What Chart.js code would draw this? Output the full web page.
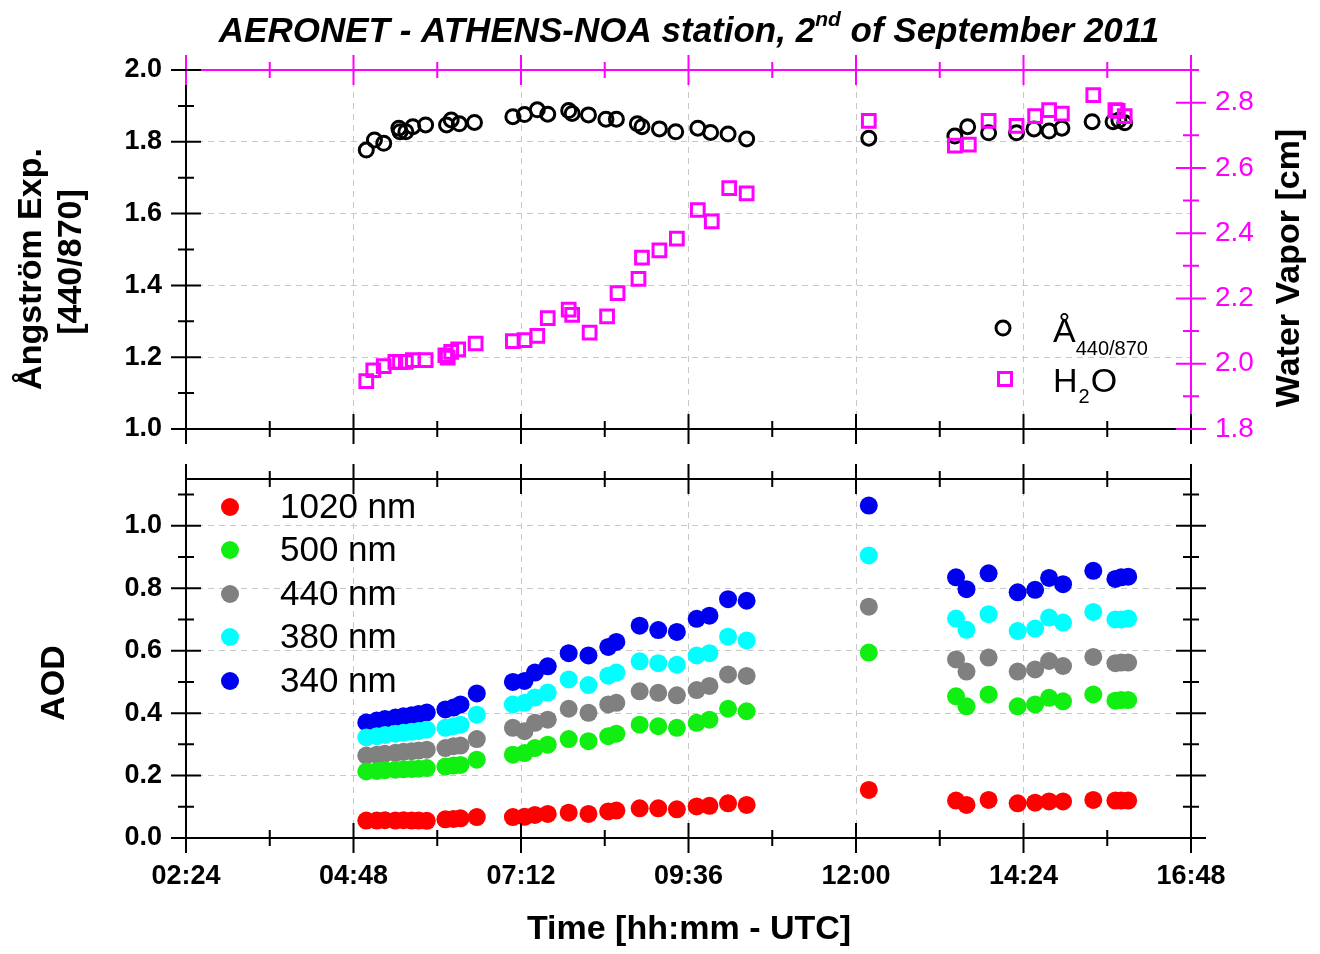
<!DOCTYPE html>
<html>
<head>
<meta charset="utf-8">
<title>AERONET - ATHENS-NOA, 2 September 2011</title>
<script src="https://cdn.jsdelivr.net/npm/chart.js@4.4.1/dist/chart.umd.min.js"></script>
<style>
  html, body { margin: 0; padding: 0; background: #fff; }
  #wrap { position: relative; width: 1320px; height: 954px; overflow: hidden; }
  #wrap canvas { position: absolute; left: 0; }
  #top { top: 0; }
  #bottom { top: 454px; }
</style>
</head>
<body>
<div id="wrap">
  <canvas id="top" width="1320" height="454"></canvas>
  <canvas id="bottom" width="1320" height="500"></canvas>
</div>
<script>
/* ── DATA ─────────────────────────────────────────────────── */
const timeTicks = ['02:24', '04:48', '07:12', '09:36', '12:00', '14:24', '16:48'];

// Ångström exponent 440/870 (left axis, top panel)
const aeTimes  = ['04:59','05:06','05:14','05:27','05:28','05:33','05:39','05:50','06:08','06:12','06:19','06:32',
                  '07:05','07:15','07:26','07:35','07:53','07:56','08:10','08:25','08:34','08:52','08:56','09:11',
                  '09:25','09:44','09:55','10:10','10:26','12:11','13:25','13:36','13:54','14:18','14:33','14:46',
                  '14:57','15:23','15:41','15:46','15:51'];
const aeValues = [1.777,1.805,1.796,1.838,1.828,1.828,1.842,1.847,1.847,1.861,1.850,1.854,
                  1.870,1.876,1.889,1.877,1.887,1.879,1.875,1.863,1.863,1.850,1.842,1.836,
                  1.828,1.838,1.826,1.822,1.808,1.810,1.816,1.842,1.825,1.825,1.836,1.830,
                  1.838,1.856,1.856,1.860,1.853];

// Water vapour [cm] (right axis, top panel)
const wvTimes  = ['04:59','05:05','05:14','05:24','05:28','05:33','05:39','05:50','06:07','06:09','06:12','06:18',
                  '06:33','07:05','07:15','07:26','07:35','07:53','07:56','08:11','08:26','08:35','08:53','08:56',
                  '09:11','09:26','09:44','09:56','10:11','10:26','12:11','13:25','13:37','13:54','14:18','14:34',
                  '14:46','14:57','15:24','15:43','15:45','15:51'];
const wvValues = [1.947,1.980,1.993,2.006,2.006,2.006,2.011,2.011,2.026,2.019,2.036,2.044,
                  2.062,2.069,2.072,2.085,2.140,2.166,2.150,2.095,2.145,2.216,2.260,2.325,
                  2.347,2.383,2.471,2.436,2.538,2.522,2.744,2.668,2.671,2.744,2.729,2.759,
                  2.777,2.766,2.823,2.777,2.775,2.759];

// AOD (bottom panel)
const aodTimes = ['04:59','05:08','05:15','05:24','05:31','05:38','05:44','05:51','06:07','06:14','06:20','06:34',
                  '07:05','07:15','07:24','07:35','07:53','08:10','08:27','08:34','08:54','09:10','09:26','09:43',
                  '09:54','10:10','10:26','12:11','13:26','13:35','13:54','14:19','14:34','14:46','14:58','15:24',
                  '15:43','15:48','15:54'];
const aod1020 = [0.056,0.056,0.057,0.056,0.057,0.056,0.056,0.055,0.060,0.061,0.063,0.067,
                 0.067,0.068,0.074,0.077,0.081,0.077,0.085,0.088,0.095,0.095,0.092,0.101,
                 0.103,0.111,0.106,0.154,0.120,0.106,0.122,0.111,0.113,0.117,0.117,0.122,
                 0.120,0.120,0.120];
const aod500  = [0.213,0.215,0.217,0.219,0.220,0.221,0.222,0.224,0.229,0.232,0.234,0.251,
                 0.267,0.272,0.288,0.299,0.317,0.310,0.326,0.334,0.363,0.358,0.353,0.369,
                 0.379,0.414,0.406,0.594,0.454,0.422,0.460,0.422,0.428,0.449,0.438,0.460,
                 0.440,0.442,0.442];
const aod440  = [0.264,0.267,0.270,0.273,0.276,0.278,0.280,0.283,0.288,0.294,0.296,0.317,
                 0.353,0.342,0.369,0.379,0.414,0.401,0.428,0.433,0.470,0.465,0.457,0.474,
                 0.487,0.524,0.519,0.741,0.572,0.533,0.578,0.533,0.540,0.567,0.551,0.580,
                 0.560,0.562,0.562];
const aod380  = [0.322,0.326,0.330,0.334,0.337,0.340,0.343,0.347,0.353,0.358,0.363,0.395,
                 0.428,0.433,0.450,0.466,0.508,0.490,0.520,0.530,0.566,0.560,0.555,0.585,
                 0.592,0.645,0.633,0.905,0.703,0.667,0.717,0.663,0.671,0.706,0.690,0.724,
                 0.700,0.700,0.703];
const aod340  = [0.370,0.376,0.381,0.386,0.390,0.393,0.397,0.402,0.412,0.418,0.428,0.463,
                 0.500,0.503,0.530,0.550,0.592,0.585,0.612,0.628,0.680,0.666,0.660,0.702,
                 0.712,0.765,0.760,1.065,0.835,0.797,0.848,0.787,0.795,0.833,0.813,0.856,
                 0.830,0.835,0.837];
const aodLabels = ['1020 nm', '500 nm', '440 nm', '380 nm', '340 nm'];

/* ── HELPERS ──────────────────────────────────────────────── */
const FAMILY  = "'Liberation Sans', Arial, sans-serif";
const INK     = '#000';
const MAGENTA = '#ff00ff';
const GRID    = '#c8c8c8';
const aodColors = ['#ff0000', '#11ee11', '#808080', '#00ffff', '#0000f0'];

Chart.defaults.font.family = FAMILY;

const toMin = s => { const [h, m] = s.split(':'); return +h * 60 + +m; };
const fmtTime = v => String(Math.floor(v / 60)).padStart(2, '0') + ':' + String(Math.round(v % 60)).padStart(2, '0');
const pairs = (times, vals) => times.map((t, i) => ({ x: toMin(t), y: vals[i] }));

const xMin  = toMin(timeTicks[0]);
const xMax  = toMin(timeTicks[timeTicks.length - 1]);
const xStep = toMin(timeTicks[1]) - xMin;

// grid lines only inside the frame
const innerGrid = c => {
  const s = c.scale;
  if (!c.tick) return GRID;
  return (Math.abs(c.tick.value - s.min) < 1e-6 || Math.abs(c.tick.value - s.max) < 1e-6) ? 'rgba(0,0,0,0)' : GRID;
};

// fixed box size, no label overflow padding -> predictable plot area
const fixBox = (w, h) => s => {
  if (w != null) s.width = w;
  if (h != null) s.height = h;
  s.paddingTop = s.paddingBottom = s.paddingLeft = s.paddingRight = 0;
};

function line(ctx, x1, y1, x2, y2, color) {
  ctx.strokeStyle = color; ctx.lineWidth = 2;
  ctx.beginPath(); ctx.moveTo(x1, y1); ctx.lineTo(x2, y2); ctx.stroke();
}

// crossing tick marks (major from scale.ticks, minor half way)
function tickMarks(ctx, scale, edge, color) {
  const vals = scale.ticks.map(t => t.value);
  const step = vals[1] - vals[0];
  const minors = vals.map(v => v + step / 2).filter(v => v <= scale.max + 1e-9);
  const horiz = scale.isHorizontal();
  ctx.strokeStyle = color; ctx.lineWidth = 2;
  ctx.beginPath();
  const mark = (v, len) => {
    const p = scale.getPixelForValue(v);
    if (horiz) { ctx.moveTo(p, edge - len); ctx.lineTo(p, edge + len); }
    else       { ctx.moveTo(edge - len, p); ctx.lineTo(edge + len, p); }
  };
  vals.forEach(v => mark(v, 15));
  minors.forEach(v => mark(v, 8));
  ctx.stroke();
}

function vText(ctx, text, x, y) {
  ctx.save();
  ctx.translate(x, y); ctx.rotate(-Math.PI / 2);
  ctx.textAlign = 'center'; ctx.textBaseline = 'middle';
  ctx.fillText(text, 0, 0);
  ctx.restore();
}

/* ── TOP PANEL DECORATION ─────────────────────────────────── */
const topDecor = {
  id: 'topDecor',
  afterDraw(chart) {
    const { ctx, chartArea: a, scales } = chart;
    ctx.save();
    line(ctx, a.left, a.top, a.left, a.bottom, INK);
    line(ctx, a.left, a.bottom, a.right, a.bottom, INK);
    line(ctx, a.left, a.top, a.right, a.top, MAGENTA);
    line(ctx, a.right, a.top, a.right, a.bottom, MAGENTA);
    tickMarks(ctx, scales.x, a.bottom, INK);
    tickMarks(ctx, scales.x, a.top, MAGENTA);
    tickMarks(ctx, scales.y, a.left, INK);
    tickMarks(ctx, scales.y2, a.right, MAGENTA);

    // title with superscript
    ctx.fillStyle = INK;
    ctx.textAlign = 'left'; ctx.textBaseline = 'alphabetic';
    const p1 = 'AERONET - ATHENS-NOA station, 2', p2 = 'nd', p3 = ' of September 2011';
    const big = `italic bold 35px ${FAMILY}`, sup = `italic bold 21px ${FAMILY}`;
    ctx.font = big; const w1 = ctx.measureText(p1).width, w3 = ctx.measureText(p3).width;
    ctx.font = sup; const w2 = ctx.measureText(p2).width;
    let x = 689 - (w1 + w2 + w3) / 2;
    ctx.font = big; ctx.fillText(p1, x, 42); x += w1;
    ctx.font = sup; ctx.fillText(p2, x, 26); x += w2;
    ctx.font = big; ctx.fillText(p3, x, 42);

    // axis titles
    ctx.font = `bold 34px ${FAMILY}`;
    vText(ctx, 'Ångström Exp.', 32, 269);
    vText(ctx, '[440/870]', 72, 262);
    vText(ctx, 'Water Vapor [cm]', 1290, 268);

    // legend
    ctx.lineWidth = 3;
    ctx.strokeStyle = INK;
    ctx.beginPath(); ctx.arc(1003, 328, 7, 0, Math.PI * 2); ctx.stroke();
    ctx.strokeStyle = MAGENTA;
    ctx.strokeRect(1005 - 6.5, 379 - 6.5, 13, 13);
    ctx.fillStyle = INK; ctx.textAlign = 'left'; ctx.textBaseline = 'alphabetic';
    ctx.font = `34px ${FAMILY}`; ctx.fillText('Å', 1053, 342);
    const wa = ctx.measureText('Å').width;
    ctx.font = `20px ${FAMILY}`; ctx.fillText('440/870', 1053 + wa, 355);
    ctx.font = `34px ${FAMILY}`; ctx.fillText('H', 1053, 392);
    const wh = ctx.measureText('H').width;
    ctx.font = `20px ${FAMILY}`; ctx.fillText('2', 1053 + wh + 1, 403);
    const w2s = ctx.measureText('2').width;
    ctx.font = `34px ${FAMILY}`; ctx.fillText('O', 1053 + wh + w2s + 2, 392);
    ctx.restore();
  }
};

/* ── BOTTOM PANEL DECORATION ──────────────────────────────── */
const OFF_B = 454;
const bottomDecor = {
  id: 'bottomDecor',
  afterDraw(chart) {
    const { ctx, chartArea: a, scales } = chart;
    ctx.save();
    line(ctx, a.left, a.top, a.left, a.bottom, INK);
    line(ctx, a.left, a.bottom, a.right, a.bottom, INK);
    line(ctx, a.left, a.top, a.right, a.top, INK);
    line(ctx, a.right, a.top, a.right, a.bottom, INK);
    tickMarks(ctx, scales.x, a.bottom, INK);
    tickMarks(ctx, scales.x, a.top, INK);
    tickMarks(ctx, scales.y, a.left, INK);
    tickMarks(ctx, scales.y, a.right, INK);

    ctx.fillStyle = INK;
    ctx.font = `bold 34px ${FAMILY}`;
    vText(ctx, 'AOD', 55, 683 - OFF_B);
    ctx.textAlign = 'center'; ctx.textBaseline = 'middle';
    ctx.fillText('Time [hh:mm - UTC]', 689, 930 - OFF_B);

    // legend
    const rows = [507, 550, 594, 637, 681];
    ctx.font = `35px ${FAMILY}`;
    ctx.textAlign = 'left'; ctx.textBaseline = 'middle';
    aodLabels.forEach((lab, i) => {
      const y = rows[i] - OFF_B;
      ctx.fillStyle = aodColors[i];
      ctx.beginPath(); ctx.arc(230, y, 9, 0, Math.PI * 2); ctx.fill();
      ctx.fillStyle = INK;
      ctx.fillText(lab, 280, y + 1);
    });
    ctx.restore();
  }
};

/* ── SHARED SCALE PIECES ──────────────────────────────────── */
const tickFont = { size: 27, weight: 'bold' };
const xScaleBase = {
  type: 'linear', min: xMin, max: xMax,
  grid: { color: innerGrid, drawTicks: false, lineWidth: 1 },
  border: { display: false, dash: [6, 5] },
};

/* ── TOP CHART ────────────────────────────────────────────── */
new Chart(document.getElementById('top'), {
  type: 'scatter',
  data: {
    datasets: [
      { label: 'H2O', data: pairs(wvTimes, wvValues), yAxisID: 'y2', order: 0,
        pointStyle: 'rect', pointRadius: 9, pointBorderWidth: 3, borderWidth: 3,
        borderColor: MAGENTA, backgroundColor: 'rgba(0,0,0,0)' },
      { label: 'Å440/870', data: pairs(aeTimes, aeValues), yAxisID: 'y', order: 1,
        pointStyle: 'circle', pointRadius: 7, pointBorderWidth: 3, borderWidth: 3,
        borderColor: INK, backgroundColor: 'rgba(0,0,0,0)' },
    ],
  },
  options: {
    responsive: false, animation: false, devicePixelRatio: 1,
    layout: { padding: { top: 70, left: 0, right: 0, bottom: 0 } },
    plugins: { legend: { display: false }, tooltip: { enabled: false } },
    scales: {
      x: { ...xScaleBase, position: 'bottom',
           ticks: { display: false, stepSize: xStep },
           afterFit: fixBox(null, 25) },
      y: { type: 'linear', position: 'left', min: 1.0, max: 2.0,
           ticks: { stepSize: 0.2, font: tickFont, color: INK, padding: 24, callback: v => v.toFixed(1) },
           grid: { color: innerGrid, drawTicks: false, lineWidth: 1 },
           border: { display: false, dash: [6, 5] },
           afterFit: fixBox(186, null) },
      y2: { type: 'linear', position: 'right', min: 1.8, max: 2.9,
            ticks: { stepSize: 0.2, includeBounds: false, font: { size: 28 }, color: MAGENTA, padding: 24,
                     callback: v => v.toFixed(1) },
            grid: { display: false, drawTicks: false },
            border: { display: false },
            afterFit: fixBox(129, null) },
    },
  },
  plugins: [topDecor],
});

/* ── BOTTOM CHART ─────────────────────────────────────────── */
const aodSeries = [aod1020, aod500, aod440, aod380, aod340];
new Chart(document.getElementById('bottom'), {
  type: 'scatter',
  data: {
    datasets: aodSeries.map((vals, i) => ({
      label: aodLabels[i], data: pairs(aodTimes, vals),
      pointStyle: 'circle', pointRadius: 9, pointBorderWidth: 0,
      backgroundColor: aodColors[i], borderColor: aodColors[i],
    })),
  },
  options: {
    responsive: false, animation: false, devicePixelRatio: 1,
    layout: { padding: { top: 25, left: 0, right: 129, bottom: 0 } },
    plugins: { legend: { display: false }, tooltip: { enabled: false } },
    scales: {
      x: { ...xScaleBase, position: 'bottom',
           ticks: { stepSize: xStep, font: tickFont, color: INK, padding: 22, maxRotation: 0, autoSkip: false,
                    callback: v => fmtTime(v) },
           afterFit: fixBox(null, 116) },
      y: { type: 'linear', position: 'left', min: 0, max: 1.15,
           ticks: { stepSize: 0.2, includeBounds: false, font: tickFont, color: INK, padding: 24,
                    callback: v => v.toFixed(1) },
           grid: { color: innerGrid, drawTicks: false, lineWidth: 1 },
           border: { display: false, dash: [6, 5] },
           afterFit: fixBox(186, null) },
    },
  },
  plugins: [bottomDecor],
});
</script>
</body>
</html>
